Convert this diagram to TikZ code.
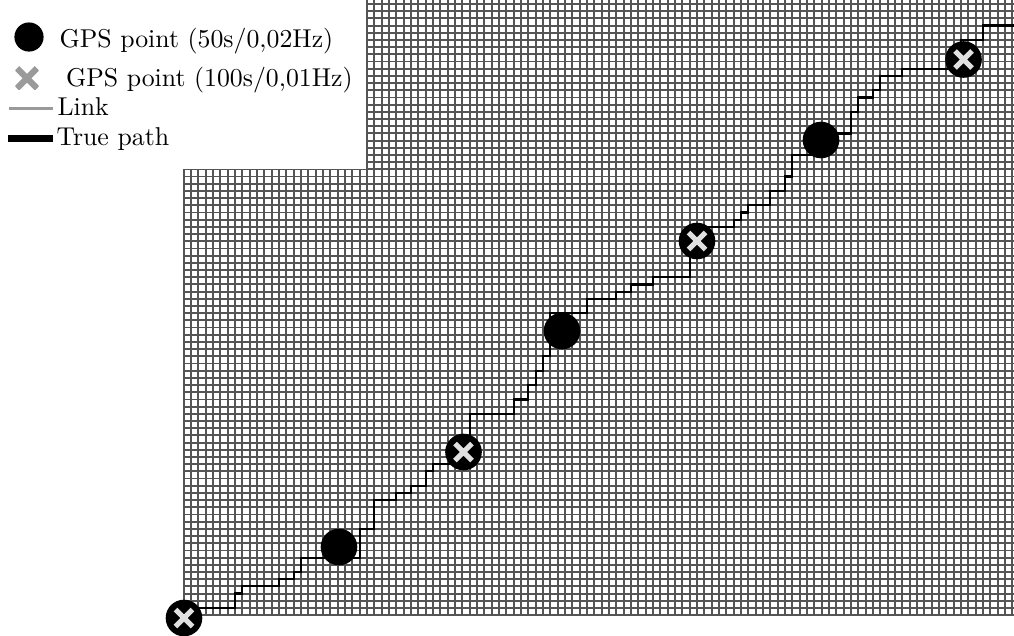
\documentclass[tikz,border=0pt]{standalone}
\definecolor{gridgray}{HTML}{555555}
\definecolor{legendgray}{HTML}{9A9A9A}
\definecolor{xgray}{HTML}{E0E0E0}
\begin{document}
\begin{tikzpicture}[x=0.3876pt,y=-0.3876pt,
  gridline/.style={draw=gridgray,line width=0.72pt},
  truepath/.style={draw=black,line width=0.85pt,line join=miter},
  gpsdot/.style={circle,fill=black,inner sep=0pt,minimum size=14.2pt},
  gpscross/.style={circle,fill=black,inner sep=0pt,minimum size=14.2pt,
    path picture={\draw[xgray,line width=2pt]
      (path picture bounding box.center) ++(-8.5,-8.5) -- ++(17,17)
      (path picture bounding box.center) ++(-8.5,8.5) -- ++(17,-17);}},
  legcross/.style={inner sep=0pt,minimum size=9pt,
    path picture={\draw[legendgray,line width=2.4pt]
      (path picture bounding box.center) ++(-10,-10) -- ++(20,20)
      (path picture bounding box.center) ++(-10,10) -- ++(20,-20);}},
  legtext/.style={anchor=base west,inner sep=0pt}]
\useasboundingbox (0,0) rectangle (1014,635);
\clip (0,0) rectangle (1014,635);
% grid of links and true path
\begin{scope}[shift={(183.7,4.0)},x=2.8423pt,y=-2.7868pt]
  \foreach \i in {0,...,113} \draw[gridline] (\i,-2) -- (\i,85);
  \foreach \j in {0,...,85} \draw[gridline] (0,\j) -- (115,\j);
  \draw[truepath] (0,84) -- (7,84) -- (7,82) -- (8,82) -- (8,81) -- (13,81) -- (13,80)
    -- (15,80) -- (15,79) -- (16,79) -- (16,77) -- (24,77) -- (24,73) -- (26,73)
    -- (26,69) -- (29,69) -- (29,68) -- (31,68) -- (31,67) -- (33,67) -- (33,65)
    -- (34,65) -- (34,64) -- (39,64) -- (39,57) -- (45,57) -- (45,55) -- (47,55)
    -- (47,53) -- (48,53) -- (48,51) -- (49,51) -- (49,49) -- (50,49) -- (50,43)
    -- (55,43) -- (55,41) -- (59,41) -- (59,40) -- (61,40) -- (61,39) -- (64,39)
    -- (64,38) -- (69,38) -- (69,31) -- (75,31) -- (75,30) -- (76,30) -- (76,29)
    -- (77,29) -- (77,28) -- (80,28) -- (80,26) -- (82,26) -- (82,24) -- (83,24)
    -- (83,21) -- (87,21) -- (87,18) -- (91,18) -- (91,15) -- (92,15) -- (92,13)
    -- (94,13) -- (94,12) -- (95,12) -- (95,10) -- (98,10) -- (98,9) -- (106,9)
    -- (106,5) -- (109,5) -- (109,3) -- (116,3);
\end{scope}
% GPS points
\node[gpscross] (x1) at (184,618) {};
\node[gpsdot] (c1) at (339,547) {};
\node[gpscross] (x2) at (463.5,452) {};
\node[gpsdot] (c2) at (562,331) {};
\node[gpscross] (x3) at (697,241) {};
\node[gpsdot] (c3) at (821,140) {};
\node[gpscross] (x4) at (963.5,59.5) {};
% legend
\fill[white] (0,0) rectangle (365.5,169);
\node[gpsdot,minimum size=11.3pt] (legdot) at (29,37) {};
\node[legtext] (legdottext) at (59,47) {GPS point (50s/0,02Hz)};
\node[legcross] (legx) at (27,78.3) {};
\node[legtext] (legxtext) at (65.5,86) {GPS point (100s/0,01Hz)};
\coordinate (linka) at (9.3,108.3);
\coordinate (linkb) at (53.3,108.3);
\draw[legendgray,line width=1.05pt] (linka) -- (linkb);
\node[legtext] (linktext) at (57,115) {Link};
\coordinate (patha) at (8.3,138.3);
\coordinate (pathb) at (53.3,138.3);
\draw[black,line width=2.6pt] (patha) -- (pathb);
\node[legtext] (pathtext) at (56,145.7) {True path};
\end{tikzpicture}
\end{document}
